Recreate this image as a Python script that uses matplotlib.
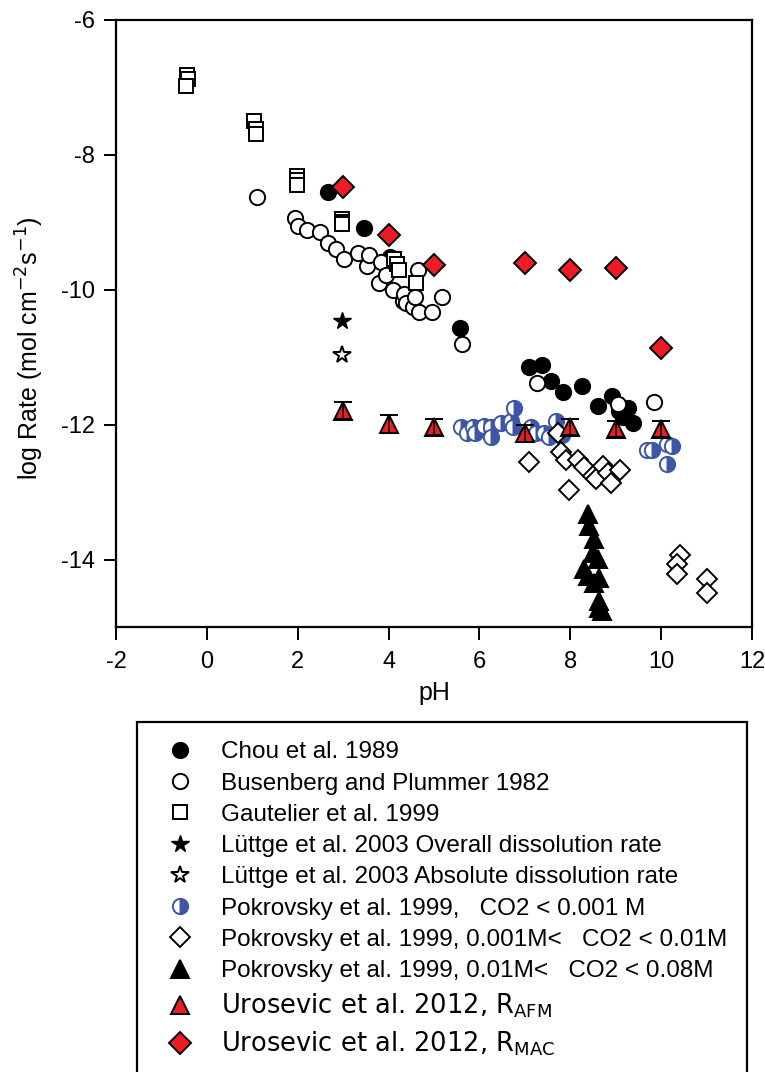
import matplotlib
matplotlib.use('Agg')
import matplotlib.pyplot as plt

plt.rcParams['font.family'] = ['Liberation Sans', 'DejaVu Sans']
plt.rcParams['axes.unicode_minus'] = False

# Chou et al. 1989
chou_ph = [2.66, 3.45, 4.03, 5.57, 7.10, 7.38, 7.58, 7.85, 8.25, 8.60, 8.91, 9.08, 9.15, 9.28, 9.37]
chou_lr = [-8.55, -9.09, -9.52, -10.57, -11.15, -11.12, -11.35, -11.52, -11.42, -11.72, -11.57, -11.79, -11.88, -11.76, -11.97]

# Busenberg and Plummer 1982
bp_ph = [1.10, 1.93, 2.00, 2.20, 2.48, 2.66, 2.84, 3.02, 3.33, 3.52, 3.58, 3.79, 3.83, 3.95, 4.10,
         4.32, 4.34, 4.38, 4.54, 4.59, 4.65, 4.67, 4.96, 5.17, 5.62, 7.27, 9.04, 9.84]
bp_lr = [-8.63, -8.94, -9.06, -9.11, -9.15, -9.31, -9.39, -9.54, -9.46, -9.65, -9.49, -9.90, -9.59, -9.78, -10.01,
         -10.16, -10.06, -10.20, -10.25, -10.11, -9.71, -10.33, -10.33, -10.11, -10.81, -11.38, -11.69, -11.67]

# Gautelier et al. 1999
ga_ph = [-0.43, -0.41, -0.46, 1.04, 1.08, 1.09, 1.98, 1.98, 1.98, 2.97, 2.97, 2.97, 4.12, 4.18, 4.22, 4.60]
ga_lr = [-6.82, -6.87, -6.98, -7.50, -7.62, -7.69, -8.32, -8.37, -8.44, -8.95, -8.99, -9.03, -9.55, -9.62, -9.70, -9.90]

# Luttge et al. 2003
lu_ph = [2.97]
lu_overall = [-10.47]
lu_absolute = [-10.96]

# Pokrovsky et al. 1999
pk1_ph = [5.60, 5.73, 5.85, 5.90, 6.10, 6.25, 6.26, 6.48, 6.70, 6.77, 6.73, 7.14, 7.25, 7.43, 7.54,
          7.69, 7.82, 9.68, 9.80, 10.12, 10.23, 10.12]
pk1_lr = [-12.04, -12.13, -12.03, -12.12, -12.02, -12.04, -12.19, -11.98, -11.94, -11.76, -12.04, -12.04,
          -12.13, -12.13, -12.19, -11.94, -12.16, -12.37, -12.37, -12.28, -12.31, -12.58]

pk2_ph = [7.10, 7.72, 7.80, 7.91, 8.16, 8.31, 7.98, 8.49, 8.57, 8.71, 8.82, 8.90, 9.10,
          10.41, 10.36, 10.36, 11.00, 11.00]
pk2_lr = [-12.55, -12.13, -12.41, -12.53, -12.52, -12.63, -12.97, -12.76, -12.80, -12.61, -12.71,
          -12.86, -12.67, -13.93, -14.06, -14.22, -14.29, -14.50]

pk3_ph = [8.39, 8.41, 8.53, 8.49, 8.60, 8.31, 8.38, 8.64, 8.53, 8.63, 8.64, 8.69]
pk3_lr = [-13.33, -13.50, -13.69, -13.90, -13.99, -14.14, -14.24, -14.27, -14.35, -14.61, -14.72, -14.76]

# Urosevic et al. 2012
uro_ph = [3, 4, 5, 7, 8, 9, 10]
afm_lr = [-11.79, -11.99, -12.04, -12.13, -12.04, -12.06, -12.06]
afm_err = [0.12, 0.13, 0.12, 0.12, 0.12, 0.12, 0.12]
mac_lr = [-8.48, -9.19, -9.64, -9.60, -9.71, -9.67, -10.87]

labels = [
    'Chou et al. 1989',
    'Busenberg and Plummer 1982',
    'Gautelier et al. 1999',
    'Lüttge et al. 2003 Overall dissolution rate',
    'Lüttge et al. 2003 Absolute dissolution rate',
    'Pokrovsky et al. 1999,   CO2 < 0.001 M',
    'Pokrovsky et al. 1999, 0.001M<   CO2 < 0.01M',
    'Pokrovsky et al. 1999, 0.01M<   CO2 < 0.08M',
    r'Urosevic et al. 2012, R$_{\mathrm{AFM}}$',
    r'Urosevic et al. 2012, R$_{\mathrm{MAC}}$',
]

RED = '#ED1C24'
BLUE = '#3F55A5'
W, H = 765, 1072

fig = plt.figure(figsize=(W / 100, H / 100), dpi=100)
ax = fig.add_axes([116 / W, 1 - 627 / H, (752 - 116) / W, (627 - 20) / H])

kw = dict(ls='none', mec='black', mew=1.4)
h = []
h += ax.plot(chou_ph, chou_lr, marker='o', ms=11, mfc='black', **kw)
h += ax.plot(bp_ph, bp_lr, marker='o', ms=11, mfc='white', **kw)
h += ax.plot(ga_ph, ga_lr, marker='s', ms=10, mfc='white', **kw)
h += ax.plot(lu_ph, lu_overall, marker='*', ms=13, mfc='black', mew=1.0, ls='none', mec='black')
h += ax.plot(lu_ph, lu_absolute, marker='*', ms=13, mfc='white', mew=1.4, ls='none', mec='black')
h += ax.plot(pk1_ph, pk1_lr, marker='o', ms=11, ls='none', mec=BLUE, mew=1.4,
             fillstyle='right', mfc=BLUE, mfcalt='white')
h += ax.plot(pk2_ph, pk2_lr, marker='D', ms=10, mfc='white', **kw)
h += ax.plot(pk3_ph, pk3_lr, marker='^', ms=13, mfc='black', **kw)
ax.errorbar(uro_ph, afm_lr, yerr=afm_err, fmt='none', ecolor='black', elinewidth=1.2,
            capsize=6.5, capthick=1.4, zorder=2.5)
h += ax.plot(uro_ph, afm_lr, marker='^', ms=13, mfc=RED, **kw)
h += ax.plot(uro_ph, mac_lr, marker='D', ms=11, mfc=RED, **kw)

ax.set_xlim(-2, 12)
ax.set_ylim(-15, -6)
ax.set_xticks(range(-2, 13, 2))
ax.set_yticks(range(-14, -5, 2))
ax.tick_params(direction='out', length=9, width=1.4, labelsize=17)
ax.tick_params(axis='x', pad=8)
ax.tick_params(axis='y', pad=6)
for s in ax.spines.values():
    s.set_linewidth(1.6)
ax.set_xlabel('pH', fontsize=18, labelpad=6)
ax.set_ylabel('log Rate (mol cm$^{-2}$s$^{-1}$)', fontsize=18)
ax.yaxis.set_label_coords(-0.11, 0.46)

leg = fig.legend(h, labels, loc='upper left', bbox_to_anchor=(137 / W, 1 - 722 / H),
                 borderaxespad=0, fontsize=17.5, frameon=True, fancybox=False,
                 edgecolor='black', framealpha=1, numpoints=1, handlelength=1.9,
                 handletextpad=0.75, borderpad=0.8, labelspacing=0.38)
leg.get_frame().set_linewidth(1.6)
for t in leg.get_texts()[8:]:
    t.set_fontfamily('DejaVu Sans')
    t.set_fontsize(18.5)

fig.savefig('out.png', dpi=100)
